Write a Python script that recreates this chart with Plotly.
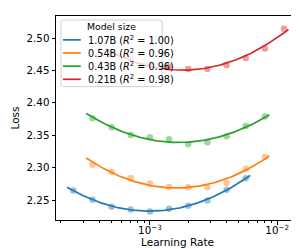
import numpy as np
import plotly.graph_objects as go

# Learning rates (sqrt(2) grid)
lr_grid = [2.5e-4, 3.54e-4, 5e-4, 7.07e-4, 1e-3, 1.414e-3, 2e-3, 2.83e-3, 4e-3, 5.66e-3, 8e-3, 1.13e-2]

model_names = ["1.07B", "0.54B", "0.43B", "0.21B"]
r2_labels = ["1.00", "0.96", "0.96", "0.98"]
colors = ["#1f77b4", "#ff7f0e", "#2ca02c", "#d62728"]
legend_title = "Model size"
x_title = "Learning Rate"
y_title = "Loss"

lr_107 = lr_grid[0:10]
loss_107 = [2.2647, 2.2505, 2.2397, 2.2356, 2.2325, 2.2367, 2.2413, 2.2494, 2.2658, 2.2837]

lr_054 = lr_grid[1:11]
loss_054 = [2.3046, 2.2934, 2.2842, 2.2755, 2.2704, 2.2699, 2.2699, 2.2765, 2.2985, 2.3164]

lr_043 = lr_grid[1:11]
loss_043 = [2.3762, 2.3624, 2.3506, 2.3471, 2.3440, 2.3363, 2.3391, 2.3486, 2.3644, 2.3788]

lr_021 = lr_grid[2:12]
loss_021 = [2.4740, 2.4665, 2.4590, 2.4560, 2.4524, 2.4524, 2.4586, 2.4693, 2.4840, 2.5143]

series = [(lr_107, loss_107), (lr_054, loss_054), (lr_043, loss_043), (lr_021, loss_021)]

y_ticks = [2.25, 2.30, 2.35, 2.40, 2.45, 2.50]
x_ticks = [1e-3, 1e-2]
x_ticktext = ["10<sup>−3</sup>", "10<sup>−2</sup>"]
x_minor = [m * 10.0 ** e for e in (-4, -3, -2) for m in range(2, 10)]

# figure geometry (pixels)
W, H = 299, 249
L, R, T, B = 46, 8, 7, 37
PW, PH = W - L - R, H - T - B


def px(x):
    return (x - L) / PW


def py(y):
    return (H - B - y) / PH


fig = go.Figure()
for (lr, loss), name, r2, c in zip(series, model_names, r2_labels, colors):
    lx = np.log10(lr)
    coef = np.polyfit(lx, loss, 2)
    xs = np.linspace(lx.min() - 0.05, lx.max() + 0.035, 120)
    ys = np.polyval(coef, xs)
    fig.add_trace(go.Scatter(
        x=lr, y=loss, mode="markers", showlegend=False,
        marker=dict(color=c, size=6.5, opacity=0.45, line=dict(width=0)),
        hoverinfo="skip"))
    fig.add_trace(go.Scatter(
        x=10 ** xs, y=ys, mode="lines", showlegend=False,
        name=f"{name} (R² = {r2})",
        line=dict(color=c, width=1.7)))

# Legend box (matplotlib-style, semi-transparent)
bx0, bx1, by0, by1, rr = 51, 153, 11, 78, 2.5
path = (f"M {px(bx0 + rr)} {py(by0)} L {px(bx1 - rr)} {py(by0)} "
        f"Q {px(bx1)} {py(by0)} {px(bx1)} {py(by0 + rr)} "
        f"L {px(bx1)} {py(by1 - rr)} Q {px(bx1)} {py(by1)} {px(bx1 - rr)} {py(by1)} "
        f"L {px(bx0 + rr)} {py(by1)} Q {px(bx0)} {py(by1)} {px(bx0)} {py(by1 - rr)} "
        f"L {px(bx0)} {py(by0 + rr)} Q {px(bx0)} {py(by0)} {px(bx0 + rr)} {py(by0)} Z")
shapes = [dict(type="path", xref="paper", yref="paper", path=path,
               fillcolor="rgba(255,255,255,0.8)", line=dict(color="#d0d0d0", width=1),
               layer="above")]
annotations = [dict(x=px(102), y=py(17.5), xref="paper", yref="paper", text=legend_title,
                    showarrow=False, xanchor="center", yanchor="middle",
                    font=dict(size=9.3, color="black"))]
row_y = [31, 44.2, 57.4, 70.6]
for yy, name, r2, c in zip(row_y, model_names, r2_labels, colors):
    shapes.append(dict(type="line", xref="paper", yref="paper",
                       x0=px(53), x1=px(71), y0=py(yy), y1=py(yy),
                       line=dict(color=c, width=1.7), layer="above"))
    annotations.append(dict(x=px(76.5), y=py(yy), xref="paper", yref="paper",
                            text=f"{name} (<i>R</i><sup>2</sup> = {r2})",
                            showarrow=False, xanchor="left", yanchor="middle",
                            font=dict(size=9.7, color="black")))

# x axis title placed at the reference position
annotations.append(dict(x=0.5, y=py(234.5), xref="paper", yref="paper", text=x_title,
                        showarrow=False, xanchor="center", yanchor="middle",
                        font=dict(size=10.5, color="black")))

axis_common = dict(
    showline=True, linecolor="black", linewidth=1, mirror=True,
    ticks="outside", ticklen=3.5, tickwidth=1, tickcolor="black",
    showgrid=False, zeroline=False,
    tickfont=dict(family="DejaVu Sans", size=10.3, color="black"),
)

fig.update_layout(
    width=W, height=H,
    margin=dict(l=L, r=R, t=T, b=B),
    paper_bgcolor="white", plot_bgcolor="white",
    font=dict(family="DejaVu Sans", size=10, color="black"),
    showlegend=False,
    xaxis=dict(
        type="log", range=[-3.738, -1.829],
        tickvals=x_ticks, ticktext=x_ticktext, ticklabelstandoff=-3,
        minor=dict(tickvals=x_minor, ticks="outside", ticklen=2, tickcolor="black", tickwidth=0.8),
        **axis_common),
    yaxis=dict(
        range=[2.2193, 2.534], tickvals=y_ticks, tickformat=".2f",
        title=dict(text=y_title, font=dict(size=10.5), standoff=4),
        **axis_common),
    shapes=shapes,
    annotations=annotations,
)

fig.write_html("out.html")
